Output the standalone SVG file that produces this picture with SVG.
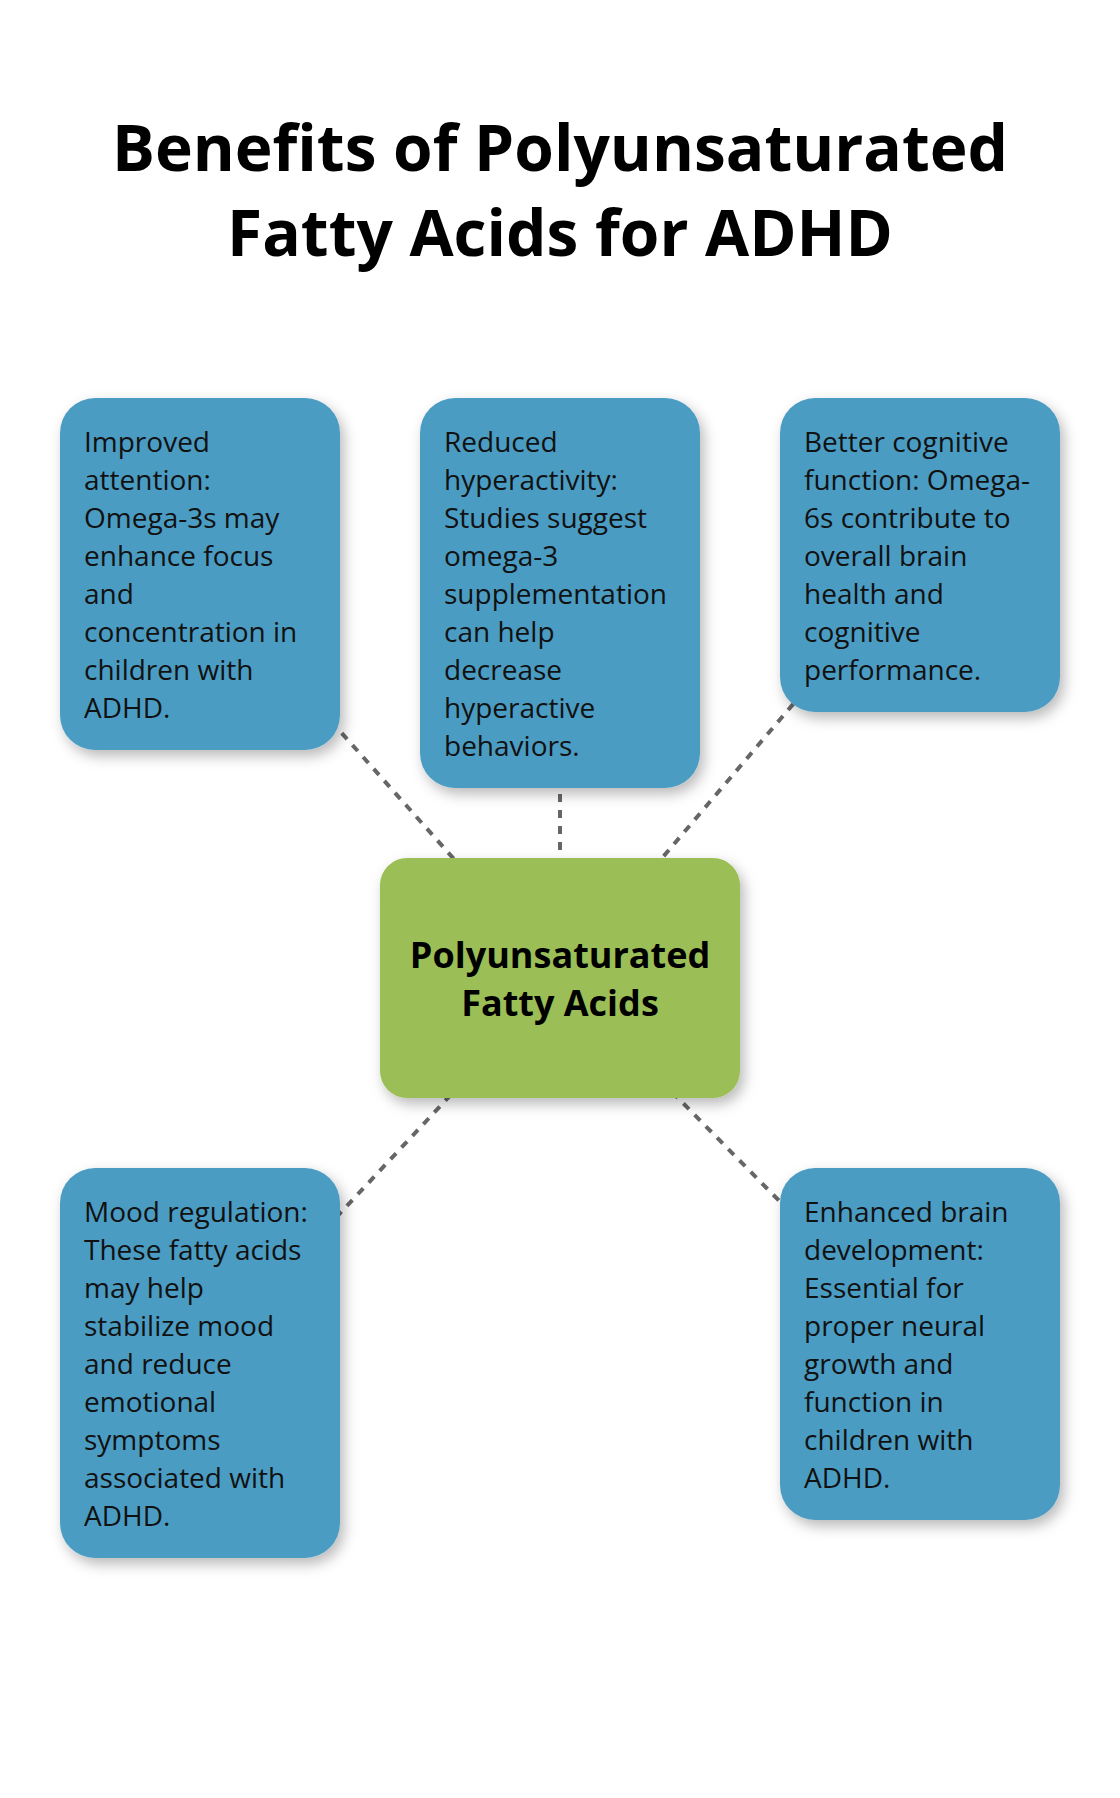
<svg xmlns="http://www.w3.org/2000/svg" width="1120" height="1798" viewBox="0 0 1120 1798">
  <style>
    .title { font-family: "Open Sans", "Noto Sans", "Liberation Sans", sans-serif; font-weight: 700; font-size: 64px; fill: #000; text-anchor: middle; }
    .box { fill: #4B9CC3; }
    .hub { fill: #9BBF56; }
    .body { font-family: "Open Sans", "Noto Sans", "Liberation Sans", sans-serif; font-size: 28px; fill: #111; }
    .hubtext { font-family: "Open Sans", "Noto Sans", "Liberation Sans", sans-serif; font-weight: 700; font-size: 36px; fill: #000; text-anchor: middle; }
    .link { stroke: #666; stroke-width: 4; stroke-dasharray: 8 8; fill: none; }
  </style>
  <defs>
    <filter id="shadow" x="-20%" y="-20%" width="140%" height="140%">
      <feDropShadow dx="4" dy="6" stdDeviation="7" flood-color="#000" flood-opacity="0.28"/>
    </filter>
  </defs>
  <rect x="0" y="0" width="1120" height="1798" fill="#fff"/>

  <g id="title">
    <text class="title" x="560" y="171">Benefits of Polyunsaturated</text>
    <text class="title" x="560" y="256">Fatty Acids for ADHD</text>
  </g>

  <g id="connectors">
    <line class="link" x1="560" y1="978" x2="200" y2="574"/>
    <line class="link" x1="560" y1="978" x2="560" y2="593"/>
    <line class="link" x1="560" y1="978" x2="920" y2="555"/>
    <line class="link" x1="560" y1="978" x2="200" y2="1363"/>
    <line class="link" x1="560" y1="978" x2="920" y2="1344"/>
  </g>

  <g id="hub">
    <rect class="hub" x="380" y="858" width="360" height="240" rx="27" ry="27" filter="url(#shadow)"/>
    <text class="hubtext" x="560" y="968">Polyunsaturated</text>
    <text class="hubtext" x="560" y="1016">Fatty Acids</text>
  </g>

  <g id="attention">
    <rect class="box" x="60" y="398" width="280" height="352" rx="35" ry="35" filter="url(#shadow)"/>
    <text class="body" x="84" y="452">
      <tspan x="84" y="452">Improved</tspan>
      <tspan x="84" y="490">attention:</tspan>
      <tspan x="84" y="528">Omega-3s may</tspan>
      <tspan x="84" y="566">enhance focus</tspan>
      <tspan x="84" y="604">and</tspan>
      <tspan x="84" y="642">concentration in</tspan>
      <tspan x="84" y="680">children with</tspan>
      <tspan x="84" y="718">ADHD.</tspan>
    </text>
  </g>

  <g id="hyperactivity">
    <rect class="box" x="420" y="398" width="280" height="390" rx="35" ry="35" filter="url(#shadow)"/>
    <text class="body" x="444" y="452">
      <tspan x="444" y="452">Reduced</tspan>
      <tspan x="444" y="490">hyperactivity:</tspan>
      <tspan x="444" y="528">Studies suggest</tspan>
      <tspan x="444" y="566">omega-3</tspan>
      <tspan x="444" y="604">supplementation</tspan>
      <tspan x="444" y="642">can help</tspan>
      <tspan x="444" y="680">decrease</tspan>
      <tspan x="444" y="718">hyperactive</tspan>
      <tspan x="444" y="756">behaviors.</tspan>
    </text>
  </g>

  <g id="cognitive">
    <rect class="box" x="780" y="398" width="280" height="314" rx="35" ry="35" filter="url(#shadow)"/>
    <text class="body" x="804" y="452">
      <tspan x="804" y="452">Better cognitive</tspan>
      <tspan x="804" y="490">function: Omega-</tspan>
      <tspan x="804" y="528">6s contribute to</tspan>
      <tspan x="804" y="566">overall brain</tspan>
      <tspan x="804" y="604">health and</tspan>
      <tspan x="804" y="642">cognitive</tspan>
      <tspan x="804" y="680">performance.</tspan>
    </text>
  </g>

  <g id="mood">
    <rect class="box" x="60" y="1168" width="280" height="390" rx="35" ry="35" filter="url(#shadow)"/>
    <text class="body" x="84" y="1222">
      <tspan x="84" y="1222">Mood regulation:</tspan>
      <tspan x="84" y="1260">These fatty acids</tspan>
      <tspan x="84" y="1298">may help</tspan>
      <tspan x="84" y="1336">stabilize mood</tspan>
      <tspan x="84" y="1374">and reduce</tspan>
      <tspan x="84" y="1412">emotional</tspan>
      <tspan x="84" y="1450">symptoms</tspan>
      <tspan x="84" y="1488">associated with</tspan>
      <tspan x="84" y="1526">ADHD.</tspan>
    </text>
  </g>

  <g id="development">
    <rect class="box" x="780" y="1168" width="280" height="352" rx="35" ry="35" filter="url(#shadow)"/>
    <text class="body" x="804" y="1222">
      <tspan x="804" y="1222">Enhanced brain</tspan>
      <tspan x="804" y="1260">development:</tspan>
      <tspan x="804" y="1298">Essential for</tspan>
      <tspan x="804" y="1336">proper neural</tspan>
      <tspan x="804" y="1374">growth and</tspan>
      <tspan x="804" y="1412">function in</tspan>
      <tspan x="804" y="1450">children with</tspan>
      <tspan x="804" y="1488">ADHD.</tspan>
    </text>
  </g>
</svg>
